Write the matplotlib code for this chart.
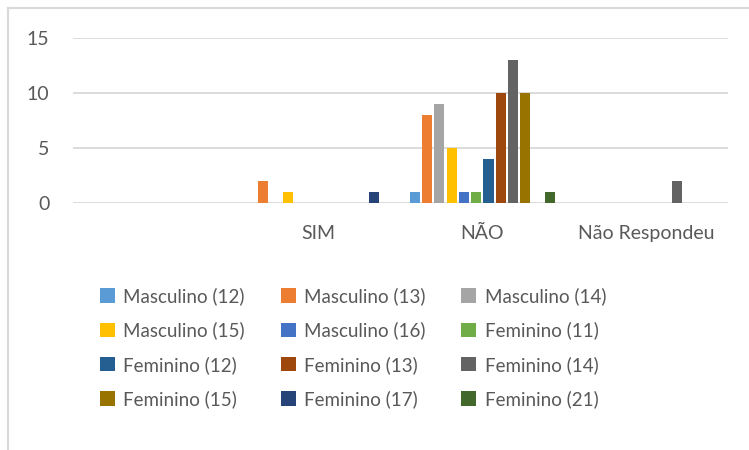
import numpy as np
import matplotlib
matplotlib.use('Agg')
import matplotlib.pyplot as plt
from matplotlib.patches import Patch
from matplotlib.lines import Line2D

plt.rcParams['font.family'] = ['Lato', 'DejaVu Sans']

CATEGORIES = ['', 'SIM', 'NÃO', 'Não Respondeu']

SERIES = [
    'Masculino (12)', 'Masculino (13)', 'Masculino (14)',
    'Masculino (15)', 'Masculino (16)', 'Feminino (11)',
    'Feminino (12)', 'Feminino (13)', 'Feminino (14)',
    'Feminino (15)', 'Feminino (17)', 'Feminino (21)',
]

# values per series across the four categories
M12 = [0, 0, 1, 0]
M13 = [0, 2, 8, 0]
M14 = [0, 0, 9, 0]
M15 = [0, 1, 5, 0]
M16 = [0, 0, 1, 0]
F11 = [0, 0, 1, 0]
F12 = [0, 0, 4, 0]
F13 = [0, 0, 10, 0]
F14 = [0, 0, 13, 2]
F15 = [0, 0, 10, 0]
F17 = [0, 1, 0, 0]
F21 = [0, 0, 1, 0]
VALUES = [M12, M13, M14, M15, M16, F11, F12, F13, F14, F15, F17, F21]

COLORS = ['#5B9BD5', '#ED7D31', '#A5A5A5', '#FFC000', '#4472C4', '#70AD47',
          '#255E91', '#9E480E', '#636363', '#997300', '#264478', '#43682B']

TEXT = '#595959'
GRID = '#D9D9D9'

fig = plt.figure(figsize=(7.49, 4.5), dpi=100)
ax = fig.add_axes([73 / 749, 1 - 203 / 450, 655 / 749, 165 / 450])

x = np.arange(len(CATEGORIES))
pitch = 0.075
width = 0.062
offsets = (np.arange(len(SERIES)) - (len(SERIES) - 1) / 2) * pitch
for i, (name, vals, col) in enumerate(zip(SERIES, VALUES, COLORS)):
    ax.bar(x + offsets[i], vals, width=width, color=col, label=name, zorder=3)

ax.set_xlim(-0.5, len(CATEGORIES) - 0.5)
ax.set_ylim(0, 15)
ax.set_yticks([0, 5, 10, 15])
ax.set_xticks(x)
ax.set_xticklabels(CATEGORIES)
ax.grid(axis='y', color=GRID, lw=1.3, zorder=0)
for s in ax.spines.values():
    s.set_visible(False)
ax.tick_params(axis='both', length=0, colors=TEXT, labelsize=14)
ax.tick_params(axis='x', pad=16)
ax.tick_params(axis='y', pad=17)

# legend: matplotlib fills column-wise, reorder so it reads row-wise
handles = [Patch(facecolor=c, label=s) for s, c in zip(SERIES, COLORS)]
order = [0, 3, 6, 9, 1, 4, 7, 10, 2, 5, 8, 11]
leg = fig.legend([handles[i] for i in order], [SERIES[i] for i in order],
                 ncol=3, loc='upper left', bbox_to_anchor=(100 / 749, 1 - 287 / 450),
                 frameon=False, fontsize=13.5, handlelength=0.8, handleheight=0.8,
                 handletextpad=0.45, columnspacing=1.9, labelspacing=0.88,
                 borderaxespad=0, borderpad=0)
for t in leg.get_texts():
    t.set_color(TEXT)

# chart border (top and left visible)
fig.add_artist(Line2D([8 / 749, 8 / 749], [0, 1 - 8 / 450], color=GRID, lw=1.5))
fig.add_artist(Line2D([8 / 749, 1], [1 - 8 / 450, 1 - 8 / 450], color=GRID, lw=1.5))

fig.savefig('out.png', dpi=100)
